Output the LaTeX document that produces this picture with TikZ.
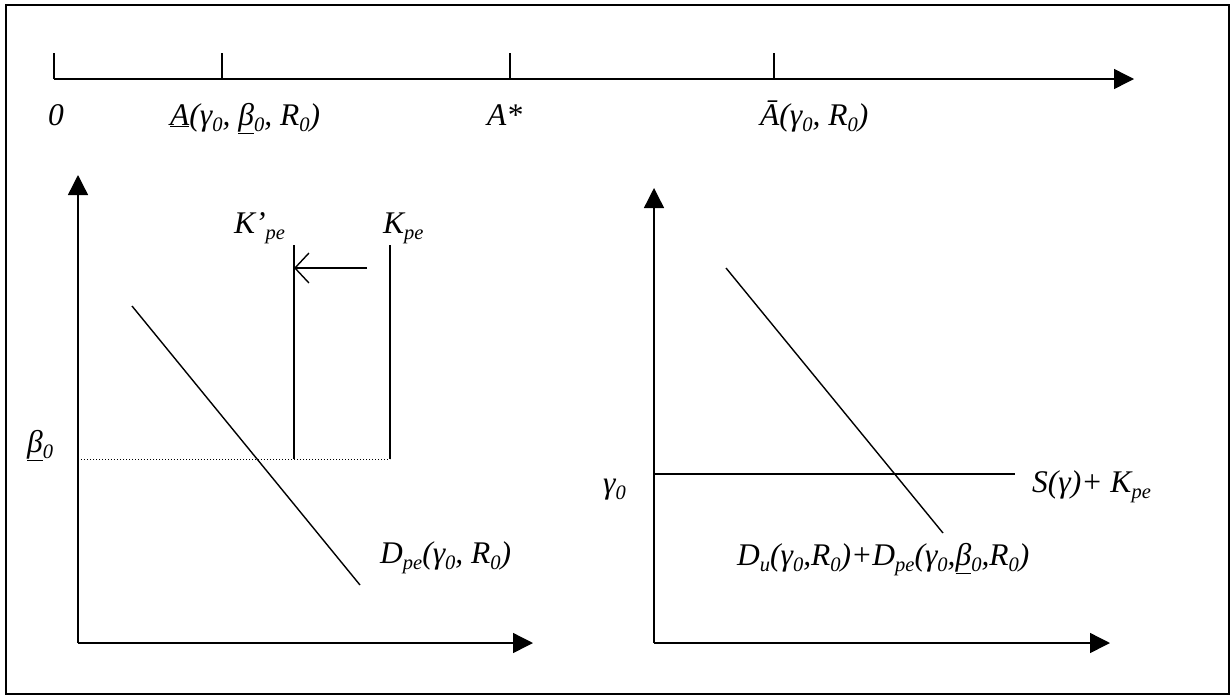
\documentclass[tikz,border=0pt]{standalone}
\usepackage{fontspec}
\setmainfont{Liberation Serif}
\usetikzlibrary{arrows.meta}
\newcommand{\lo}[1]{\raisebox{-0.22em}{\fontsize{20.5}{21}\selectfont #1}}

\begin{document}
\begin{tikzpicture}[
  x=1pt, y=-1pt,
  ln/.style={line width=1.4pt},
  ax/.style={line width=1.4pt, -{Triangle[length=20pt, width=20pt]}},
  movearr/.style={line width=1.4pt, -{Straight Barb[length=14pt, width=30pt, line width=1.4pt]}},
  lbl/.style={inner sep=0pt, anchor=base west, font=\fontsize{31.5}{36}\selectfont\itshape},
]
\useasboundingbox (0,0) rectangle (1230,697);

%% ---- frame ----
\draw[line width=2pt] (6,5) rectangle (1229,694);

%% ---- top line: values of A ----
\coordinate (t0) at (54,79);
\coordinate (tend) at (1134,79);
\draw[ax] (t0) -- (tend);
\foreach \x/\n in {54/a0, 222/alow, 510/astar, 774/ahigh}
  \draw[ln] (\x,79) -- (\x,53) coordinate (\n);
\node[lbl] (l0) at (48,125) {0};
\node[lbl] (lalow) at (170,125) {\underline{A}(γ\lo{0}, \underline{β}\lo{0}, R\lo{0})};
\node[lbl] (lastar) at (487,125) {A*};
\node[lbl] (lahigh) at (760,125) {Ā(γ\lo{0}, R\lo{0})};

%% ---- left panel ----
\coordinate (o1) at (78,643);
\coordinate (y1) at (78,175);
\coordinate (x1) at (533,643);
\draw[ax] (o1) -- (y1);
\draw[ax] (o1) -- (x1);

\coordinate (d1a) at (132,306);
\coordinate (d1b) at (360,585);
\draw[ln] (d1a) -- (d1b);

\coordinate (kp1) at (294,245);
\coordinate (kp2) at (294,459);
\coordinate (k1) at (390,245);
\coordinate (k2) at (390,459);
\draw[ln] (kp1) -- (kp2);
\draw[ln] (k1) -- (k2);
\draw[line width=1pt, dotted] (78,459) -- (k2);

\coordinate (sa) at (367,268);
\coordinate (sb) at (294,268);
\draw[movearr] (sa) -- (sb);

\node[lbl] (lkp) at (234,233) {K’\lo{pe}};
\node[lbl] (lk) at (383,233) {K\lo{pe}};
\node[lbl] (lbeta) at (27,452) {\underline{β}\lo{0}};
\node[lbl] (ld1) at (380,563) {D\lo{pe}(γ\lo{0}, R\lo{0})};

%% ---- right panel ----
\coordinate (o2) at (654,643);
\coordinate (y2) at (654,188);
\coordinate (x2) at (1110,643);
\draw[ax] (o2) -- (y2);
\draw[ax] (o2) -- (x2);

\coordinate (s1) at (654,474);
\coordinate (s2) at (1015,474);
\draw[ln] (s1) -- (s2);

\coordinate (d2a) at (726,268);
\coordinate (d2b) at (943,533);
\draw[ln] (d2a) -- (d2b);

\node[lbl] (lgamma) at (603,493) {γ\lo{0}};
\node[lbl] (ls) at (1032,492) {S(γ)+ K\lo{pe}};
\node[lbl] (ld2) at (737,565) {D\lo{u}(γ\lo{0},R\lo{0})+D\lo{pe}(γ\lo{0},\underline{β}\lo{0},R\lo{0})};

\end{tikzpicture}
\end{document}
